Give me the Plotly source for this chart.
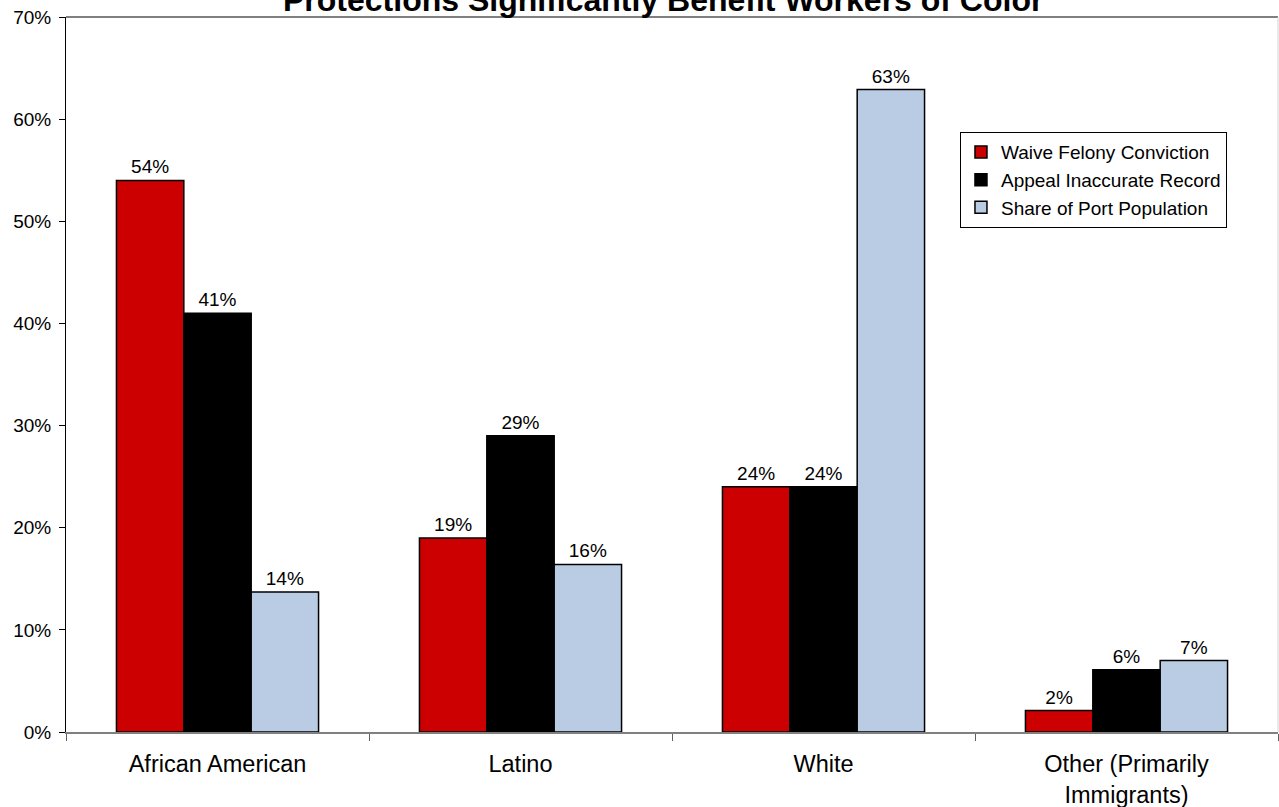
import plotly.graph_objects as go

categories = ["African American", "Latino", "White", "Other (Primarily<br>Immigrants)"]
series_names = ["Waive Felony Conviction", "Appeal Inaccurate Record", "Share of Port Population"]
waive_felony = [54.0, 19.0, 24.0, 2.1]
appeal_record = [41.0, 29.0, 24.0, 6.1]
port_share = [13.7, 16.4, 62.9, 7.0]
colors = ["#CC0000", "#000000", "#B9CCE4"]
y_ticks = [0, 10, 20, 30, 40, 50, 60, 70]
y_tick_labels = [f"{t}%" for t in y_ticks]

FONT = "Arial, 'Liberation Sans', sans-serif"

fig = go.Figure()
for name, vals, col in zip(series_names, [waive_felony, appeal_record, port_share], colors):
    fig.add_trace(go.Bar(
        x=categories, y=vals, name=name,
        marker=dict(color=col, line=dict(color="#000000", width=1.5)),
        text=[f"{v:.0f}%" for v in vals],
        textposition="outside",
        textfont=dict(family=FONT, size=19, color="#000000"),
        cliponaxis=False,
    ))

fig.update_layout(
    width=1279, height=807,
    margin=dict(l=66, r=1, t=17, b=75, autoexpand=False),
    paper_bgcolor="white", plot_bgcolor="white",
    barmode="group", bargap=0.333, bargroupgap=0,
    font=dict(family=FONT, color="#000000"),
    showlegend=True,
    legend=dict(
        x=0.7376, y=0.839, xanchor="left", yanchor="top",
        bgcolor="white", bordercolor="#000000", borderwidth=1,
        font=dict(family=FONT, size=19, color="#000000"),
        traceorder="normal",
    ),
    xaxis=dict(
        type="category", tickson="boundaries", automargin=False,
        showline=True, linecolor="#808080", linewidth=1.5,
        ticks="outside", ticklen=7, tickcolor="#606060", tickwidth=1,
        tickfont=dict(family=FONT, size=23.5, color="#000000"),
        ticklabelstandoff=10,
        showgrid=False, zeroline=False,
    ),
    yaxis=dict(
        range=[0, 70], tickmode="array", tickvals=y_ticks, ticktext=y_tick_labels,
        automargin=False,
        showline=True, linecolor="#000000", linewidth=1,
        ticks="outside", ticklen=6, tickcolor="#000000",
        tickfont=dict(family=FONT, size=19, color="#000000"),
        ticklabelstandoff=4,
        showgrid=False, zeroline=False,
    ),
    annotations=[dict(
        text="<b>Protections Significantly Benefit Workers of Color</b>",
        xref="paper", yref="paper", x=0.4926, y=1, xanchor="center", yanchor="bottom",
        yshift=-3, showarrow=False,
        font=dict(family=FONT, size=32, color="#000000"),
    )],
    shapes=[
        dict(type="line", xref="paper", yref="paper", x0=0, x1=1, y0=1, y1=1,
             line=dict(color="#808080", width=2)),
        dict(type="line", xref="paper", yref="paper", x0=1, x1=1, y0=0, y1=1,
             line=dict(color="#D4D4D4", width=1)),
    ],
)

fig.write_html("out.html")
